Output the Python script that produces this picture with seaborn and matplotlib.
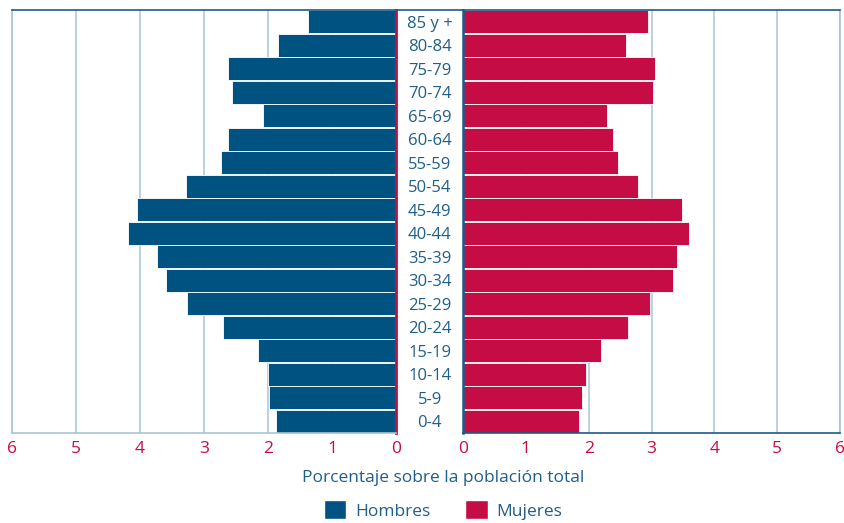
import numpy as np
import pandas as pd
import seaborn as sns
import matplotlib.pyplot as plt
from matplotlib.patches import Patch

# data (percentage of total population)
AGES = ["85 y +", "80-84", "75-79", "70-74", "65-69", "60-64", "55-59", "50-54",
        "45-49", "40-44", "35-39", "30-34", "25-29", "20-24", "15-19", "10-14",
        "5-9", "0-4"]
HOMBRES = [1.37, 1.85, 2.63, 2.57, 2.08, 2.62, 2.74, 3.28, 4.04, 4.19, 3.74,
           3.59, 3.26, 2.71, 2.16, 2.00, 1.98, 1.88]
MUJERES = [2.94, 2.60, 3.06, 3.02, 2.29, 2.38, 2.47, 2.79, 3.48, 3.60, 3.40,
           3.35, 2.97, 2.63, 2.20, 1.95, 1.89, 1.84]
TICKS = [0, 1, 2, 3, 4, 5, 6]
XLABEL = "Porcentaje sobre la población total"
LEGEND = ["Hombres", "Mujeres"]

BLUE = "#005381"
RED = "#C60C44"
TEXT = "#1F5F8A"
GRID = "#A9C3DA"
DARK = "#1B5C87"

sns.set_style("white")
plt.rcParams["font.family"] = ["Open Sans", "DejaVu Sans"]

df = pd.DataFrame({"age": AGES, "h": HOMBRES, "m": MUJERES})

W, H = 844, 523
fig = plt.figure(figsize=(W / 100, H / 100), dpi=100)
top, bot = 10, 433
ax_l = fig.add_axes([12 / W, (H - bot) / H, (396 - 12) / W, (bot - top) / H])
ax_r = fig.add_axes([463 / W, (H - bot) / H, (840 - 463) / W, (bot - top) / H])

sns.barplot(data=df, y="age", x="h", order=AGES, color=BLUE, width=0.96,
            edgecolor="white", linewidth=0.6, saturation=1, ax=ax_l)
sns.barplot(data=df, y="age", x="m", order=AGES, color=RED, width=0.96,
            edgecolor="white", linewidth=0.6, saturation=1, ax=ax_r)

for ax in (ax_l, ax_r):
    ax.set_xticks(TICKS)
    ax.set_xlabel("")
    ax.set_ylabel("")
    ax.set_ylim(len(AGES) - 0.5, -0.5)
    ax.xaxis.grid(True, color=GRID, linewidth=1.1)
    ax.yaxis.grid(False)
    ax.set_axisbelow(True)
    ax.tick_params(axis="x", colors=RED, labelsize=12.5, length=0, pad=6)
    for s in ax.spines.values():
        s.set_linewidth(1.2)

ax_l.set_xlim(6, 0)
ax_r.set_xlim(0, 6)

ax_l.set_yticks([])
ax_l.spines["top"].set_color(DARK)
ax_l.spines["left"].set_color(GRID)
ax_l.spines["bottom"].set_color(GRID)
ax_l.spines["right"].set_color(RED)
ax_l.spines["right"].set_linewidth(2)

ax_r.spines["top"].set_color(DARK)
ax_r.spines["bottom"].set_color(DARK)
ax_r.spines["left"].set_color(DARK)
ax_r.spines["left"].set_linewidth(1.8)
ax_r.spines["right"].set_color(GRID)
ax_r.tick_params(axis="y", length=0, pad=24, labelsize=12, colors=TEXT)
for lab in ax_r.get_yticklabels():
    lab.set_ha("center")
    lab.set_va("center_baseline")

# thin top rule across the label gap
fig.add_artist(plt.Line2D([396 / W, 463 / W], [1 - top / H, 1 - top / H],
                          color=DARK, linewidth=1.2))

fig.text(443 / W, 1 - 478 / H, XLABEL, ha="center", va="center",
         color=TEXT, fontsize=12.5)

handles = [Patch(facecolor=BLUE), Patch(facecolor=RED)]
fig.legend(handles, LEGEND, loc="center", bbox_to_anchor=(443 / W, 1 - 510 / H),
           ncol=2, frameon=False, fontsize=12.5, labelcolor=TEXT,
           handlelength=1.3, handleheight=1.3, handletextpad=0.5,
           columnspacing=2.0)

fig.savefig("out.png", dpi=100)
